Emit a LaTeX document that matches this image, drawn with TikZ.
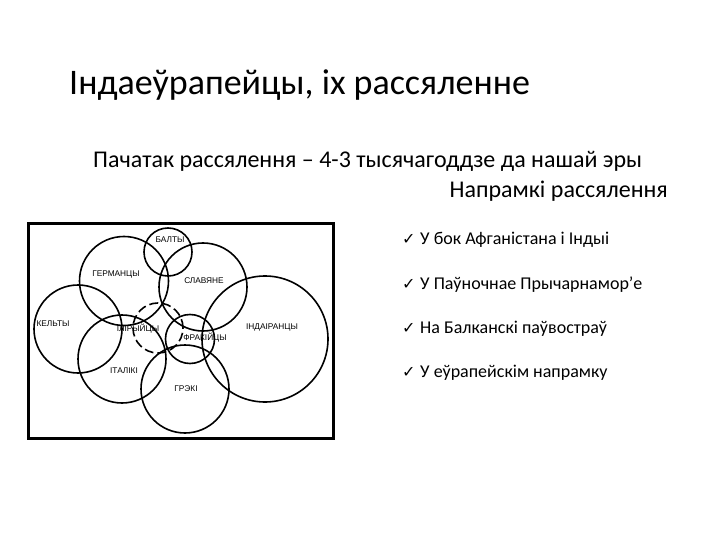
\documentclass[tikz,border=0pt]{standalone}
\usepackage{fontspec}
\setmainfont{Carlito}
\newfontfamily\labfont{Liberation Sans}
\newfontfamily\symfont{DejaVu Sans}
\usepackage{tikz}
\usetikzlibrary{calc}
\tikzset{
  people/.style={draw, circle, inner sep=0pt, line width=1.6pt},
  peoplelab/.style={font=\labfont\fontsize{8.3}{9}\selectfont, inner sep=0pt},
  route/.style={anchor=base west, font=\fontsize{18}{21}\selectfont, inner sep=0pt}
}
\newcommand{\tick}{\makebox[18pt][l]{\symfont\fontsize{16}{16}\selectfont ✓}}

\begin{document}
\begin{tikzpicture}[x=1pt, y=-1pt]
		%%%%% START %%%%%
		\useasboundingbox (0,0) rectangle (720,540);
		
		\node[anchor=base west, inner sep=0pt, font=\fontsize{36}{40}\selectfont] (title) at (69, 95) {Індаеўрапейцы, іх рассяленне};
		\node[anchor=base west, inner sep=0pt, font=\fontsize{24}{28}\selectfont] (start) at (93, 168) {Пачатак рассялення – 4-3 тысячагоддзе да нашай эры};
		\node[anchor=base east, inner sep=0pt, font=\fontsize{24}{28}\selectfont] (dirs) at (668, 197) {Напрамкі рассялення};
		
		\draw[line width=3pt] (28, 224) rectangle (333, 438);
		
		\node[people, minimum size=48pt] (balty) at (168, 252) {};
		\node[people, minimum size=89pt] (german) at (124, 281) {};
		\node[people, minimum size=88pt] (slav) at (203, 287) {};
		\node[people, minimum size=88pt] (kelt) at (78, 329) {};
		\node[people, minimum size=50pt, dash pattern=on 9pt off 4pt] (ilir) at (158, 328) {};
		\node[people, minimum size=88pt] (italik) at (122, 359) {};
		\node[people, minimum size=49pt] (frak) at (190, 339) {};
		\node[people, minimum size=126pt] (indoir) at (265, 339) {};
		\node[people, minimum size=88pt] (grek) at (185, 389) {};
		
		\node[peoplelab] (baltyL) at (170, 240) {БАЛТЫ};
		\node[peoplelab] (germanL) at (116, 274) {ГЕРМАНЦЫ};
		\node[peoplelab] (slavL) at (204, 281) {СЛАВЯНЕ};
		\node[peoplelab] (keltL) at (53, 324) {КЕЛЬТЫ};
		\node[peoplelab] (ilirL) at (138, 329) {ІЛІРЫЙЦЫ};
		\node[peoplelab] (frakL) at (205, 338) {ФРАКІЙЦЫ};
		\node[peoplelab] (indoirL) at (272, 327) {ІНДАІРАНЦЫ};
		\node[peoplelab] (italikL) at (124, 371) {ІТАЛІКІ};
		\node[peoplelab] (grekL) at (186, 389) {ГРЭКІ};
		
		\node[route] (r1) at (402, 244) {\tick У бок Афганістана і Індыі};
		\node[route] (r2) at (402, 289) {\tick У Паўночнае Прычарнамор’е};
		\node[route] (r3) at (402, 333) {\tick На Балканскі паўвостраў};
		\node[route] (r4) at (402, 377) {\tick У еўрапейскім напрамку};
		%%%%% END %%%%%
	\end{tikzpicture}
\end{document}
